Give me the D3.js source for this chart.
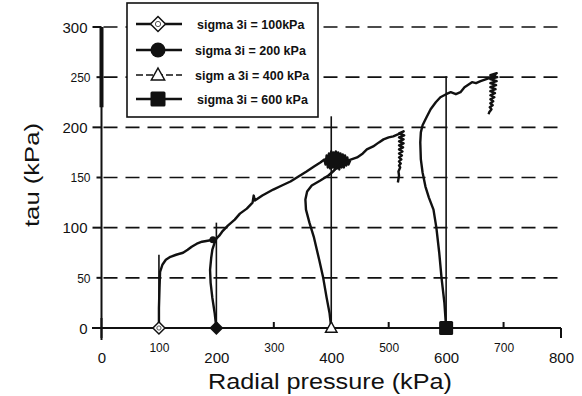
<!DOCTYPE html>
<html><head><meta charset="utf-8">
<script src="https://cdn.jsdelivr.net/npm/d3@7"></script>
<style>body{margin:0;background:#fff}svg{display:block}text{font-family:"Liberation Sans",Arial,sans-serif;fill:#111}</style>
</head><body><svg id="c" width="582" height="396"></svg>
<script>
// ---- data ----
const xTicks = [0,100,200,300,400,500,600,700,800];
const yTicks = [0,50,100,150,200,250,300];
const gridValues = [50,100,150,200,250,300];
const seriesNames = ["sigma 3i = 100kPa","sigma 3i = 200 kPa","sigm a 3i = 400 kPa","sigma 3i = 600 kPa"];
const startPressure = [100,200,400,600];
const verticalTop = [73,105,211,251];
const s100 = [[100,0],[100,20],[101,40],[102,56],[106,63],[112,68],[120,71],[130,73],[142,75],[150,78],[157,81],[166,84],[175,86],[185,87],[194,88]];
const s200 = [[200,0],[197,15],[193,30],[190,45],[189,58],[191,70],[193,78],[197,85],[200,89],[205,92],[210,96],[220,102],[232,108],[241,114],[253,119],[263,125],[265,132],[267,127],[280,132],[299,138],[314,142],[329,146],[343,151],[357,156],[370,161],[381,165],[388,168],[390,163],[392,172],[394,160],[396,174],[398,159],[400,176],[402,160],[404,175],[406,158],[408,176],[410,159],[412,175],[414,158],[416,174],[418,160],[420,173],[422,160],[424,172],[426,162],[428,170],[430,163],[433,167]];
const s400 = [[400,0],[397,15],[392,30],[386,50],[379,68],[370,90],[362,105],[356,118],[355,128],[358,136],[366,142],[381,147],[395,152],[405,157],[416,163],[430,167],[445,170],[455,174],[462,178],[473,181],[483,185],[491,188],[500,190],[508,191],[516,193],[526,196],[518,194],[527,192],[518,190],[526,188],[518,186],[526,184],[518,182],[525,180],[518,178],[524,176],[518,174],[523,172],[518,170],[522,168],[518,166],[521,164],[518,162],[520,160],[517,156],[518,152],[516,145]];
const s600 = [[600,0],[597,25],[592,50],[588,75],[583,100],[578,118],[570,130],[564,141],[559,155],[556,168],[555,185],[556,195],[559,202],[565,209],[573,218],[582,225],[590,230],[600,233],[608,235],[617,233],[625,235],[632,240],[645,245],[652,244],[660,246],[670,248],[680,250],[688,254],[677,252],[689,250],[677,248],[688,246],[677,244],[687,242],[677,240],[686,238],[677,236],[685,234],[677,232],[684,230],[677,228],[682,226],[677,224],[681,222],[676,220],[679,218],[675,215],[674,213]];
const seriesData = [s100,s200,s400,s600];

// ---- chart ----
const svg = d3.select("#c");
const x = d3.scaleLinear().domain([0,800]).range([101.5,561]);
const y = d3.scaleLinear().domain([0,300]).range([328,27]);

// grid
svg.append("g").selectAll("line").data(gridValues).join("line")
  .attr("x1", x(0)+2).attr("x2", 562).attr("y1", d=>y(d)).attr("y2", d=>y(d))
  .attr("stroke","#111").attr("stroke-width",1.6).attr("stroke-dasharray","14,8");

// axes lines
svg.append("line").attr("x1",92).attr("x2",x(800)).attr("y1",y(0)).attr("y2",y(0)).attr("stroke","#111").attr("stroke-width",2);
svg.append("line").attr("x1",x(0)).attr("x2",x(0)).attr("y1",y(300)).attr("y2",340).attr("stroke","#111").attr("stroke-width",2);
svg.append("line").attr("x1",x(0)).attr("x2",x(0)).attr("y1",y(300)).attr("y2",y(220)).attr("stroke","#111").attr("stroke-width",4);

// x ticks
svg.append("g").selectAll("line").data(xTicks).join("line")
  .attr("x1",d=>x(d)).attr("x2",d=>x(d))
  .attr("y1",d=> d===0 ? y(0)-10 : (d===800 ? y(0) : y(0)-6))
  .attr("y2",d=> d===0 ? y(0)+10 : (d===800 ? y(0)+10 : y(0)))
  .attr("stroke","#111").attr("stroke-width",2);
// y ticks
svg.append("g").selectAll("line").data(yTicks).join("line")
  .attr("x1",(d,i)=> i%2===0 ? x(0)-9 : x(0)-5).attr("x2",x(0))
  .attr("y1",d=>y(d)).attr("y2",d=>y(d))
  .attr("stroke","#111").attr("stroke-width",2);

// x axis labels
const xa = svg.append("g").attr("transform",`translate(0,${y(0)})`)
  .call(d3.axisBottom(x).tickValues(xTicks).tickSize(0).tickFormat(d3.format("d")));
xa.select(".domain").remove();
xa.selectAll("text").attr("dy",null)
  .attr("y",(d,i)=> i%2===0 ? 35 : 24)
  .style("font-size",(d,i)=> i%2===0 ? "15px" : "12px")
  .style("font-family","'Liberation Sans',Arial,sans-serif").attr("fill","#111");

// y axis labels
const ya = svg.append("g").attr("transform",`translate(${x(0)},0)`)
  .call(d3.axisLeft(y).tickValues(yTicks).tickSize(0).tickFormat(d3.format("d")));
ya.select(".domain").remove();
ya.selectAll("text").attr("dy","0.35em")
  .attr("x",(d,i)=> i%2===0 ? -14 : -11)
  .style("font-size",(d,i)=> i%2===0 ? "15px" : "12px")
  .style("font-family","'Liberation Sans',Arial,sans-serif").attr("fill","#111");

// vertical reference lines
svg.append("g").selectAll("line").data(startPressure).join("line")
  .attr("x1",d=>x(d)).attr("x2",d=>x(d)).attr("y1",y(0)).attr("y2",(d,i)=>y(verticalTop[i]))
  .attr("stroke","#111").attr("stroke-width",1.6);

// series curves
const line = d3.line().x(d=>x(d[0])).y(d=>y(d[1])).curve(d3.curveLinear);
svg.append("g").selectAll("path").data(seriesData).join("path")
  .attr("d",line).attr("fill","none").attr("stroke","#111").attr("stroke-width",2.4).attr("stroke-linejoin","round");

// markers
function marker(g, kind, cx, cy, s){
  if(kind===0){
    g.append("path").attr("d",`M${cx},${cy-s}L${cx+s},${cy}L${cx},${cy+s}L${cx-s},${cy}Z`).attr("fill","#fff").attr("stroke","#111").attr("stroke-width",1.5);
    g.append("circle").attr("cx",cx).attr("cy",cy).attr("r",s*0.35).attr("fill","none").attr("stroke","#555").attr("stroke-width",1);
  } else if(kind===1){
    g.append("path").attr("d",`M${cx},${cy-s}L${cx+s},${cy}L${cx},${cy+s}L${cx-s},${cy}Z`).attr("fill","#111");
  } else if(kind===2){
    g.append("path").attr("d",`M${cx},${cy-s}L${cx+s*0.95},${cy+s*0.7}L${cx-s*0.95},${cy+s*0.7}Z`).attr("fill","#fff").attr("stroke","#111").attr("stroke-width",1.5);
  } else {
    g.append("rect").attr("x",cx-s).attr("y",cy-s).attr("width",2*s).attr("height",2*s).attr("rx",1.5).attr("fill","#111");
  }
}
const mg = svg.append("g");
startPressure.forEach((p,i)=> marker(mg, i, x(p), y(0), [6,7,6,7][i]));
mg.append("circle").attr("cx",x(s100[s100.length-1][0])).attr("cy",y(s100[s100.length-1][1])).attr("r",3.5).attr("fill","#111");

// legend
const lg = svg.append("g");
lg.append("rect").attr("x",127).attr("y",3).attr("width",191).attr("height",114).attr("fill","#fff").attr("stroke","#111").attr("stroke-width",1.6);
const rowY = [24,50,75,99];
seriesNames.forEach((n,i)=>{
  lg.append("line").attr("x1",136).attr("x2",182).attr("y1",rowY[i]).attr("y2",rowY[i])
    .attr("stroke","#111").attr("stroke-width", i===2 ? 1.5 : 2.5).attr("stroke-dasharray", i===2 ? "7,3" : null);
  if(i===1) lg.append("circle").attr("cx",158).attr("cy",rowY[i]).attr("r",7.5).attr("fill","#111");
  else marker(lg, i, 158, rowY[i], [7.5,7,7,7.5][i]);
  lg.append("text").attr("x",[197,195,195,197][i]).attr("y",rowY[i]+4.5).text(n)
    .style("font-size","12.5px").style("font-weight","bold");
});

// titles
svg.append("text").attr("x",330).attr("y",389).attr("text-anchor","middle")
  .attr("textLength",244).attr("lengthAdjust","spacingAndGlyphs")
  .style("font-size","22px").text("Radial pressure (kPa)");
svg.append("text").attr("transform","translate(39,175) rotate(-90)").attr("text-anchor","middle")
  .attr("textLength",104).attr("lengthAdjust","spacingAndGlyphs")
  .style("font-size","21px").text("tau (kPa)");
</script></body></html>
